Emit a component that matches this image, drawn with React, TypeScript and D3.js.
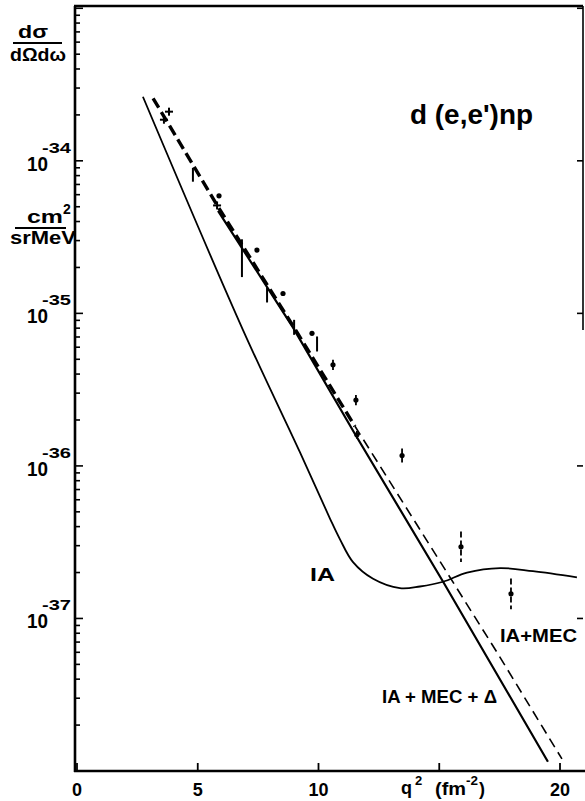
import React from 'react';
import * as d3 from 'd3';

const W = 585;
const H = 801;

// q^2 in fm^-2, cross section in cm^2/(sr MeV)
const iaQ = [2.73, 6.87, 9.23, 10.48, 10.89, 11.43, 12.26, 13.37, 14.2, 15.16, 16.15, 17.52, 18.88, 20.7];
const iaSigma = [2.63e-34, 7.8e-36, 1.23e-36, 4.5e-37, 3.3e-37, 2.34e-37, 1.82e-37, 1.58e-37, 1.62e-37, 1.74e-37, 2.0e-37, 2.14e-37, 2.04e-37, 1.86e-37];

const mecQ = [3.15, 5.84, 8.94, 11.51, 15.32, 17.39, 20.08];
const mecSigma = [2.57e-34, 5.0e-35, 8.3e-36, 1.82e-36, 2.0e-37, 6.0e-38, 1.2e-38];

const deltaQ = [5.84, 8.94, 11.51, 15.16, 19.5];
const deltaSigma = [4.7e-35, 8.1e-36, 1.62e-36, 1.74e-37, 1.15e-38];

// data points
const crossQ = [3.6, 3.81, 5.8];
const crossSigma = [1.86e-34, 2.1e-34, 5.1e-35];

const dotQ = [5.88, 7.45, 8.53, 9.73, 10.6, 11.55, 11.59, 13.46, 15.9, 17.97];
const dotSigma = [5.9e-35, 2.6e-35, 1.35e-35, 7.4e-36, 4.6e-36, 2.7e-36, 1.6e-36, 1.17e-36, 2.95e-37, 1.45e-37];
const dotErr = [1, 1, 1, 1, 1.08, 1.08, 1.06, 1.11, 1.26, 1.26];

const barQ = [4.8, 6.83, 7.87, 8.99, 9.94];
const barSigma = [8.1e-35, 2.3e-35, 1.32e-35, 8.1e-36, 6.3e-36];
const barErr = [1.11, 1.33, 1.12, 1.12, 1.12];

const xTicks = [0, 5, 10, 15, 20];
const xTickLabels = ['0', '5', '10', '', '20'];
const decadeExps = ['-34', '-35', '-36', '-37'];

const FONT = 'Liberation Sans, Arial, Helvetica, sans-serif';

export default function App() {
  const x = d3.scaleLinear().domain([0, 20]).range([77, 560]);
  const y = d3.scaleLog().domain([1.0e-38, 1.035e-33]).range([771, 6]);

  const line = d3
    .line<[number, number]>()
    .x((d) => x(d[0]))
    .y((d) => y(d[1]));

  const ia = d3.zip(iaQ, iaSigma) as [number, number][];
  const mec = d3.zip(mecQ, mecSigma) as [number, number][];
  const delta = d3.zip(deltaQ, deltaSigma) as [number, number][];

  const yTicks = y.ticks();
  const isDecade = (t: number) => Math.abs(Math.log10(t) - Math.round(Math.log10(t))) < 1e-6;

  const left = x(0) - 2;
  const right = 583;
  const top = 6;
  const bottom = y.range()[0];

  return (
    <svg
      width={W}
      height={H}
      style={{ position: 'absolute', left: 0, top: 0, background: '#fff' }}
      fontFamily={FONT}
      fontWeight="bold"
    >
      <rect width={W} height={H} fill="#fff" />

      {/* frame */}
      <line x1={left} x2={left} y1={top} y2={bottom + 1} stroke="#000" strokeWidth={2.6} />
      <line x1={left - 1} x2={W} y1={bottom} y2={bottom} stroke="#000" strokeWidth={2.6} />
      <line x1={left - 1} x2={right} y1={top} y2={top} stroke="#000" strokeWidth={2.4} />
      <line x1={right} x2={right} y1={top} y2={330} stroke="#000" strokeWidth={1.6} />

      {/* y ticks */}
      {yTicks.map((t, i) => (
        <line
          key={'yt' + i}
          x1={left}
          x2={left + (isDecade(t) ? 8 : 5)}
          y1={y(t)}
          y2={y(t)}
          stroke="#000"
          strokeWidth={1.6}
        />
      ))}
      {yTicks.filter(isDecade).map((t, i) => (
        <line key={'yr' + i} x1={right - 6} x2={right} y1={y(t)} y2={y(t)} stroke="#000" strokeWidth={1.6} />
      ))}
      {decadeExps.map((e) => {
        const yy = y(Math.pow(10, +e));
        return (
          <g key={'yl' + e}>
            <text x={27} y={yy + 10} fontSize={20} textLength={21} lengthAdjust="spacingAndGlyphs">10</text>
            <text x={42} y={yy - 8} fontSize={15} textLength={29} lengthAdjust="spacingAndGlyphs">{e}</text>
          </g>
        );
      })}

      {/* x ticks */}
      {xTicks.map((t, i) => (
        <g key={'xt' + i}>
          <line x1={x(t)} x2={x(t)} y1={bottom} y2={bottom - 8} stroke="#000" strokeWidth={1.8} />
          <text x={x(t)} y={796} fontSize={18} textAnchor="middle">{xTickLabels[i]}</text>
        </g>
      ))}
      <text x={401} y={794} fontSize={18}>q</text>
      <text x={415} y={785} fontSize={13}>2</text>
      <text x={435} y={795} fontSize={18} textLength={31} lengthAdjust="spacingAndGlyphs">(fm</text>
      <text x={466} y={785} fontSize={13} textLength={12} lengthAdjust="spacingAndGlyphs">-2</text>
      <text x={479} y={795} fontSize={18}>)</text>

      {/* y axis title */}
      <text x={33} y={38} fontSize={19} textAnchor="middle" textLength={30} lengthAdjust="spacingAndGlyphs">dσ</text>
      <line x1={13} x2={62} y1={43} y2={43} stroke="#000" strokeWidth={2} />
      <text x={38} y={61} fontSize={19} textAnchor="middle" textLength={56} lengthAdjust="spacingAndGlyphs">dΩdω</text>

      <text x={27} y={223} fontSize={18} textLength={36} lengthAdjust="spacingAndGlyphs">cm</text>
      <text x={63} y={214} fontSize={14}>2</text>
      <line x1={15} x2={66} y1={228} y2={228} stroke="#000" strokeWidth={2} />
      <text x={10} y={244} fontSize={18} textLength={66} lengthAdjust="spacingAndGlyphs">srMeV</text>

      {/* curves */}
      <path d={line.curve(d3.curveCatmullRom)(ia) ?? ''} fill="none" stroke="#000" strokeWidth={1.8} />
      <path d={line.curve(d3.curveLinear)(delta) ?? ''} fill="none" stroke="#000" strokeWidth={2.2} />
      <path
        d={line.curve(d3.curveLinear)(mec.slice(0, 4)) ?? ''}
        fill="none"
        stroke="#000"
        strokeWidth={3.4}
        strokeDasharray="11 5"
      />
      <path
        d={line.curve(d3.curveLinear)(mec.slice(3)) ?? ''}
        fill="none"
        stroke="#000"
        strokeWidth={1.6}
        strokeDasharray="10 6"
      />

      {/* data */}
      {barQ.map((q, i) => (
        <line
          key={'b' + i}
          x1={x(q)}
          x2={x(q)}
          y1={y(barSigma[i] * barErr[i])}
          y2={y(barSigma[i] / barErr[i])}
          stroke="#000"
          strokeWidth={2}
        />
      ))}
      {dotQ.map((q, i) => (
        <g key={'d' + i}>
          {dotErr[i] > 1 && (
            <line
              x1={x(q)}
              x2={x(q)}
              y1={y(dotSigma[i] * dotErr[i])}
              y2={y(dotSigma[i] / dotErr[i])}
              stroke="#000"
              strokeWidth={1.8}
              strokeDasharray={dotErr[i] > 1.2 ? '6 3' : undefined}
            />
          )}
          <circle cx={x(q)} cy={y(dotSigma[i])} r={2.6} fill="#000" />
        </g>
      ))}
      {crossQ.map((q, i) => (
        <g key={'c' + i} stroke="#000" strokeWidth={2}>
          <line x1={x(q) - 4} x2={x(q) + 4} y1={y(crossSigma[i])} y2={y(crossSigma[i])} />
          <line x1={x(q)} x2={x(q)} y1={y(crossSigma[i]) - 4} y2={y(crossSigma[i]) + 4} />
        </g>
      ))}

      {/* labels */}
      <text x={410} y={124} fontSize={28} textLength={123} lengthAdjust="spacingAndGlyphs">d (e,e')np</text>
      <text x={310} y={581} fontSize={18} textLength={25} lengthAdjust="spacingAndGlyphs">IA</text>
      <text x={500} y={642} fontSize={19} textLength={77} lengthAdjust="spacingAndGlyphs">IA+MEC</text>
      <text x={382} y={703} fontSize={18} textLength={115} lengthAdjust="spacingAndGlyphs">IA + MEC + Δ</text>
    </svg>
  );
}
